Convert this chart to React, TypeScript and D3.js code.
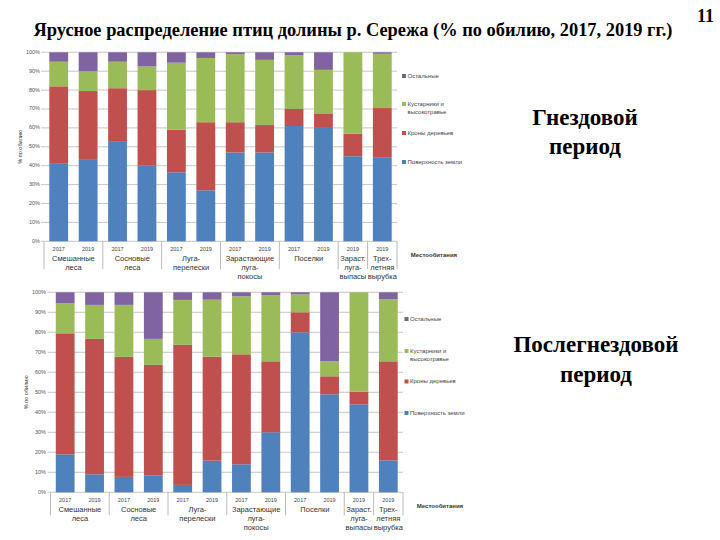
import React from 'react';
import * as d3 from 'd3';

// habitat groups (label lines) and how many bars each spans
const habitats = [
  ['Смешанные', 'леса'],
  ['Сосновые', 'леса'],
  ['Луга-', 'перелески'],
  ['Зарастающие', 'луга-', 'покосы'],
  ['Поселки'],
  ['Зараст.', 'луга-', 'выпасы'],
  ['Трех-', 'летняя', 'вырубка'],
];
const habitatBars = [2, 2, 2, 2, 2, 1, 1];
const years = ['2017', '2019', '2017', '2019', '2017', '2019', '2017', '2019', '2017', '2019', '2019', '2019'];

const layers = ['Поверхность земли', 'Кроны деревьев', 'Кустарники и высокотравье', 'Остальные'];
const layerColors = ['#4F81BD', '#C0504D', '#9BBB59', '#8064A2'];
const legendSwatch = ['#4F81BD', '#C0504D', '#9BBB59', '#6f6688'];

// Гнездовой период
const nestGround = [41, 43.5, 53, 40, 36.5, 27, 47, 47, 61, 60, 45, 44.5];
const nestCrowns = [41, 36, 28, 40, 22.5, 36, 16, 14.5, 9, 7.7, 12, 26];
const nestShrubs = [13, 10.5, 14, 12.5, 35.5, 34, 36, 34.5, 28.5, 23, 43, 28.7];
const nestOther = [5, 10, 5, 7.5, 5.5, 3, 1, 4, 1.5, 9.3, 0, 0.8];

// Послегнездовой период
const postGround = [19, 9, 7.7, 8.3, 3.7, 15.8, 14, 30, 80, 49, 44, 16];
const postCrowns = [60.5, 67.7, 60, 55.4, 70, 52, 55, 35.5, 10, 9, 6.3, 49.5];
const postShrubs = [15, 17, 26, 13, 22.5, 28.5, 29, 33, 9, 7.5, 49.7, 31];
const postOther = [5.5, 6.3, 6.3, 23.3, 3.8, 3.7, 2, 1.5, 1, 34.5, 0, 3.5];

const yTicks = d3.range(0, 101, 10);
const chartFont = '"Liberation Sans", Arial, sans-serif';
const serif = '"Liberation Serif", "Times New Roman", serif';

type ChartProps = {
  series: number[][],
  x0: number, x1: number, yTop: number, yBottom: number,
  labelX: number, axisTitleX: number, legendX: number,
  legendYs: number[], sepDepth: number, lineGap: number,
};

const StackedChart = ({ series, x0, x1, yTop, yBottom, labelX, axisTitleX, legendX, legendYs, sepDepth, lineGap }: ChartProps) => {
  const rows = years.map((yr, i) => {
    const r: any = { idx: i };
    layers.forEach((k, j) => { r[k] = series[j][i]; });
    return r;
  });
  const stacked = d3.stack().keys(layers)(rows);

  const xScale = d3.scaleBand().domain(d3.range(years.length).map(String)).range([x0, x1]).paddingInner(0.36).paddingOuter(0.18);
  const yScale = d3.scaleLinear().domain([0, 100]).range([yBottom, yTop]);
  const step = xScale.step();

  // group boundaries
  let start = 0;
  const groups = habitatBars.map((n, g) => {
    const gx0 = x0 + start * step;
    const gx1 = x0 + (start + n) * step;
    start += n;
    return { lines: habitats[g], gx0, gx1 };
  });
  const seps = [x0, ...groups.map(g => g.gx1)];

  return (
    <g fontFamily={chartFont}>
      {yTicks.map(t => (
        <g key={t}>
          <line x1={x0 - 3} x2={x1} y1={yScale(t)} y2={yScale(t)} stroke="#b8b8b8" strokeWidth={0.8} />
          <text x={labelX} y={yScale(t)} fontSize={5.5} fill="#555" textAnchor="end" dominantBaseline="middle">{t}%</text>
        </g>
      ))}
      {stacked.map((layer, j) => (
        <g key={layer.key} fill={layerColors[j]}>
          {layer.map((d, i) => (
            <rect key={i} x={xScale(String(i))} width={xScale.bandwidth()}
              y={yScale(d[1])} height={Math.max(0, yScale(d[0]) - yScale(d[1]))} />
          ))}
        </g>
      ))}
      {seps.map((sx, i) => (
        <line key={i} x1={sx} x2={sx} y1={yBottom} y2={yBottom + sepDepth} stroke="#a8a8a8" strokeWidth={0.8} />
      ))}
      {years.map((yr, i) => (
        <text key={i} x={(xScale(String(i)) as number) + xScale.bandwidth() / 2} y={yBottom + 8}
          fontSize={5.5} fill="#444" textAnchor="middle" dominantBaseline="middle">{yr}</text>
      ))}
      {groups.map((g, gi) => g.lines.map((ln, li) => (
        <text key={`${gi}-${li}`} x={(g.gx0 + g.gx1) / 2} y={yBottom + 17.5 + li * lineGap}
          fontSize={7.5} fill="#333" textAnchor="middle" dominantBaseline="middle">{ln}</text>
      )))}
      <text x={x1 + 37} y={yBottom + 14} fontSize={6} fontWeight="bold" fill="#333" textAnchor="middle" dominantBaseline="middle">Местообитания</text>
      <text transform={`translate(${axisTitleX},${(yTop + yBottom) / 2}) rotate(-90)`} fontSize={5.5} fill="#333"
        textAnchor="middle" dominantBaseline="middle">% по обилию</text>
      {[3, 2, 1, 0].map((j, k) => {
        const ly = legendYs[k];
        const lbl = j === 2 ? ['Кустарники и', 'высокотравье'] : [layers[j]];
        return (
          <g key={j}>
            <rect x={legendX} y={ly - 2} width={4} height={4} fill={legendSwatch[j]} />
            {lbl.map((t, li) => (
              <text key={li} x={legendX + 5.5} y={ly + li * 8.7} fontSize={6} fill="#444" dominantBaseline="middle">{t}</text>
            ))}
          </g>
        );
      })}
    </g>
  );
};

export default function App() {
  return (
    <svg width={720} height={540} style={{ position: 'absolute', left: 0, top: 0, background: '#fff' }}>
      <rect width={720} height={540} fill="#fff" />
      <text x={697} y={22} fontFamily={serif} fontWeight="bold" fontSize={18}>11</text>
      <text x={353} y={36} textAnchor="middle" fontFamily={serif} fontWeight="bold" fontSize={18.4}>
        Ярусное распределение птиц долины р. Сережа (% по обилию, 2017, 2019 гг.)
      </text>
      <StackedChart
        series={[nestGround, nestCrowns, nestShrubs, nestOther]}
        x0={44} x1={397} yTop={52.3} yBottom={241.3}
        labelX={40} axisTitleX={21} legendX={402} legendYs={[76, 104, 133, 162]}
        sepDepth={28} lineGap={9.3}
      />
      <StackedChart
        series={[postGround, postCrowns, postShrubs, postOther]}
        x0={50.5} x1={403} yTop={292.3} yBottom={492.3}
        labelX={46} axisTitleX={27} legendX={404.5} legendYs={[319, 351, 381.5, 413]}
        sepDepth={23} lineGap={9}
      />
      <g fontFamily={serif} fontWeight="bold" fontSize={23} textAnchor="middle" dominantBaseline="middle">
        <text x={585} y={120}>Гнездовой</text>
        <text x={585} y={149}>период</text>
        <text x={596} y={347}>Послегнездовой</text>
        <text x={596} y={377}>период</text>
      </g>
    </svg>
  );
}
